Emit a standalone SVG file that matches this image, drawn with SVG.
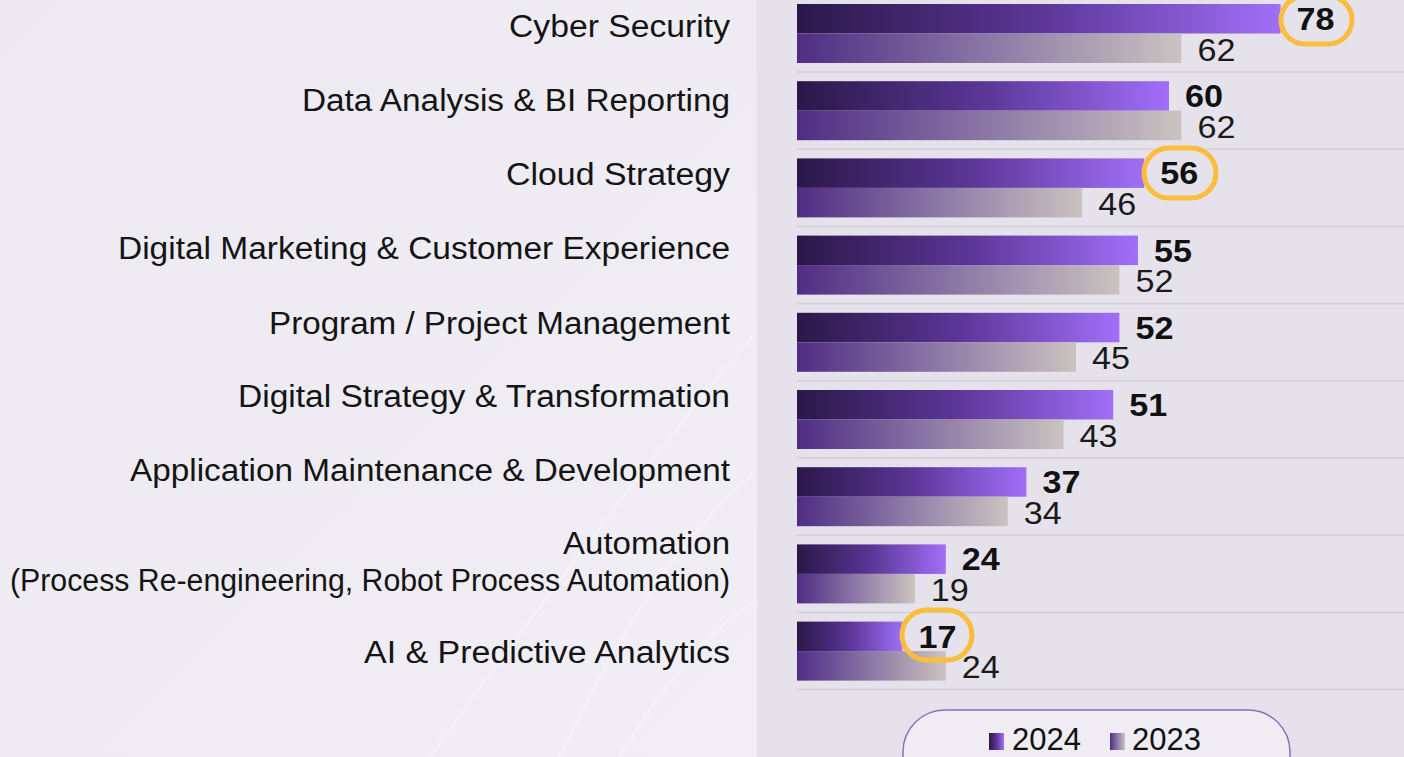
<svg xmlns="http://www.w3.org/2000/svg" width="1404" height="757" viewBox="0 0 1404 757">
  <defs>
    <linearGradient id="g24" x1="0" y1="0" x2="1" y2="0">
      <stop offset="0" stop-color="#2b1848"/>
      <stop offset="0.5" stop-color="#5a3696"/>
      <stop offset="1" stop-color="#a16ff8"/>
    </linearGradient>
    <linearGradient id="g23" x1="0" y1="0" x2="1" y2="0">
      <stop offset="0" stop-color="#4f2d84"/>
      <stop offset="0.5" stop-color="#8c78a6"/>
      <stop offset="1" stop-color="#cbc3c0"/>
    </linearGradient>
    <linearGradient id="bgL" x1="0" y1="0" x2="1" y2="1">
      <stop offset="0" stop-color="#ece9f0"/>
      <stop offset="1" stop-color="#f1eff5"/>
    </linearGradient>
    <style>
      .lbl{font-family:"Liberation Sans",Arial,sans-serif;font-size:31px;fill:#141414;text-anchor:end}
      .v24{font-family:"Liberation Sans",Arial,sans-serif;font-size:31px;font-weight:bold;fill:#111}
      .v23{font-family:"Liberation Sans",Arial,sans-serif;font-size:31px;fill:#1a1a1a}
      .leg{font-family:"Liberation Sans",Arial,sans-serif;font-size:31px;fill:#111}
      .sep{stroke:#d3cfd8;stroke-width:1.5}
      .hl{fill:none;stroke:#fbbd3c;stroke-width:5}
      .b24{fill:url(#g24)}
      .b23{fill:url(#g23)}
    </style>
  </defs>

  <!-- background -->
  <rect x="0" y="0" width="1404" height="757" fill="#e6e2eb"/>
  <rect x="0" y="0" width="757" height="757" fill="url(#bgL)"/>
  <g stroke="#ffffff" stroke-width="3" opacity="0.25" fill="none">
    <path d="M560 757 Q650 560 757 470"/>
    <path d="M620 757 Q690 640 757 600"/>
    <path d="M430 757 Q600 520 757 330"/>
  </g>

  <!-- labels -->
  <g id="labels">
    <text class="lbl" x="730" y="37" textLength="221" lengthAdjust="spacingAndGlyphs">Cyber Security</text>
    <text class="lbl" x="730" y="111" textLength="428" lengthAdjust="spacingAndGlyphs">Data Analysis &amp; BI Reporting</text>
    <text class="lbl" x="730" y="185" textLength="224" lengthAdjust="spacingAndGlyphs">Cloud Strategy</text>
    <text class="lbl" x="730" y="259" textLength="612" lengthAdjust="spacingAndGlyphs">Digital Marketing &amp; Customer Experience</text>
    <text class="lbl" x="730" y="334" textLength="461" lengthAdjust="spacingAndGlyphs">Program / Project Management</text>
    <text class="lbl" x="730" y="407" textLength="492" lengthAdjust="spacingAndGlyphs">Digital Strategy &amp; Transformation</text>
    <text class="lbl" x="730" y="481" textLength="600" lengthAdjust="spacingAndGlyphs">Application Maintenance &amp; Development</text>
    <text class="lbl" x="730" y="554" textLength="167" lengthAdjust="spacingAndGlyphs">Automation</text>
    <text class="lbl" x="730" y="591" textLength="720" lengthAdjust="spacingAndGlyphs">(Process Re-engineering, Robot Process Automation)</text>
    <text class="lbl" x="730" y="663" textLength="366" lengthAdjust="spacingAndGlyphs">AI &amp; Predictive Analytics</text>
  </g>

  <!-- separators -->
  <g id="separators">
    <line class="sep" x1="797" y1="72" x2="1404" y2="72"/>
    <line class="sep" x1="797" y1="149.2" x2="1404" y2="149.2"/>
    <line class="sep" x1="797" y1="226.4" x2="1404" y2="226.4"/>
    <line class="sep" x1="797" y1="303.6" x2="1404" y2="303.6"/>
    <line class="sep" x1="797" y1="380.8" x2="1404" y2="380.8"/>
    <line class="sep" x1="797" y1="458" x2="1404" y2="458"/>
    <line class="sep" x1="797" y1="535.2" x2="1404" y2="535.2"/>
    <line class="sep" x1="797" y1="612.4" x2="1404" y2="612.4"/>
    <line class="sep" x1="797" y1="689.6" x2="1404" y2="689.6"/>
  </g>

  <!-- bars -->
  <g id="row-cyber">
    <rect class="b24" x="797" y="4" width="483.6" height="29.5"/>
    <rect class="b23" x="797" y="33.5" width="384.4" height="29.5"/>
    <text class="v24" x="1296.6" y="30" textLength="38" lengthAdjust="spacingAndGlyphs">78</text>
    <text class="v23" x="1197.4" y="60.5" textLength="38" lengthAdjust="spacingAndGlyphs">62</text>
  </g>
  <g id="row-data">
    <rect class="b24" x="797" y="81.2" width="372" height="29.5"/>
    <rect class="b23" x="797" y="110.7" width="384.4" height="29.5"/>
    <text class="v24" x="1185" y="107.2" textLength="38" lengthAdjust="spacingAndGlyphs">60</text>
    <text class="v23" x="1197.4" y="137.7" textLength="38" lengthAdjust="spacingAndGlyphs">62</text>
  </g>
  <g id="row-cloud">
    <rect class="b24" x="797" y="158.4" width="347.2" height="29.5"/>
    <rect class="b23" x="797" y="187.9" width="285.2" height="29.5"/>
    <text class="v24" x="1160.2" y="184.4" textLength="38" lengthAdjust="spacingAndGlyphs">56</text>
    <text class="v23" x="1098.2" y="214.9" textLength="38" lengthAdjust="spacingAndGlyphs">46</text>
  </g>
  <g id="row-marketing">
    <rect class="b24" x="797" y="235.6" width="341" height="29.5"/>
    <rect class="b23" x="797" y="265.1" width="322.4" height="29.5"/>
    <text class="v24" x="1154" y="261.6" textLength="38" lengthAdjust="spacingAndGlyphs">55</text>
    <text class="v23" x="1135.4" y="292.1" textLength="38" lengthAdjust="spacingAndGlyphs">52</text>
  </g>
  <g id="row-program">
    <rect class="b24" x="797" y="312.8" width="322.4" height="29.5"/>
    <rect class="b23" x="797" y="342.3" width="279" height="29.5"/>
    <text class="v24" x="1135.4" y="338.8" textLength="38" lengthAdjust="spacingAndGlyphs">52</text>
    <text class="v23" x="1092" y="369.3" textLength="38" lengthAdjust="spacingAndGlyphs">45</text>
  </g>
  <g id="row-digital">
    <rect class="b24" x="797" y="390" width="316.2" height="29.5"/>
    <rect class="b23" x="797" y="419.5" width="266.6" height="29.5"/>
    <text class="v24" x="1129.2" y="416" textLength="38" lengthAdjust="spacingAndGlyphs">51</text>
    <text class="v23" x="1079.6" y="446.5" textLength="38" lengthAdjust="spacingAndGlyphs">43</text>
  </g>
  <g id="row-application">
    <rect class="b24" x="797" y="467.2" width="229.4" height="29.5"/>
    <rect class="b23" x="797" y="496.7" width="210.8" height="29.5"/>
    <text class="v24" x="1042.4" y="493.2" textLength="38" lengthAdjust="spacingAndGlyphs">37</text>
    <text class="v23" x="1023.8" y="523.7" textLength="38" lengthAdjust="spacingAndGlyphs">34</text>
  </g>
  <g id="row-automation">
    <rect class="b24" x="797" y="544.4" width="148.8" height="29.5"/>
    <rect class="b23" x="797" y="573.9" width="117.8" height="29.5"/>
    <text class="v24" x="961.8" y="570.4" textLength="38" lengthAdjust="spacingAndGlyphs">24</text>
    <text class="v23" x="930.8" y="600.9" textLength="38" lengthAdjust="spacingAndGlyphs">19</text>
  </g>
  <g id="row-ai">
    <rect class="b24" x="797" y="621.6" width="105.4" height="29.5"/>
    <rect class="b23" x="797" y="651.1" width="148.8" height="29.5"/>
    <text class="v24" x="918.4" y="647.6" textLength="38" lengthAdjust="spacingAndGlyphs">17</text>
    <text class="v23" x="961.8" y="678.1" textLength="38" lengthAdjust="spacingAndGlyphs">24</text>
  </g>

  <!-- highlight rings -->
  <g id="highlights">
    <rect class="hl" x="1281" y="-4" width="71" height="48" rx="24"/>
    <rect class="hl" x="1144" y="148" width="72" height="50" rx="25"/>
    <rect class="hl" x="902" y="610" width="70" height="50" rx="25"/>
  </g>

  <!-- legend -->
  <g id="legend">
    <rect x="903" y="710" width="387" height="90" rx="42" fill="#efedf3" stroke="#8a70c0" stroke-width="1.5"/>
    <rect x="989" y="733" width="15" height="17" fill="url(#g24)"/>
    <text class="leg" x="1012" y="750">2024</text>
    <rect x="1110" y="733" width="15" height="17" fill="url(#g23)"/>
    <text class="leg" x="1132" y="750">2023</text>
  </g>
</svg>
